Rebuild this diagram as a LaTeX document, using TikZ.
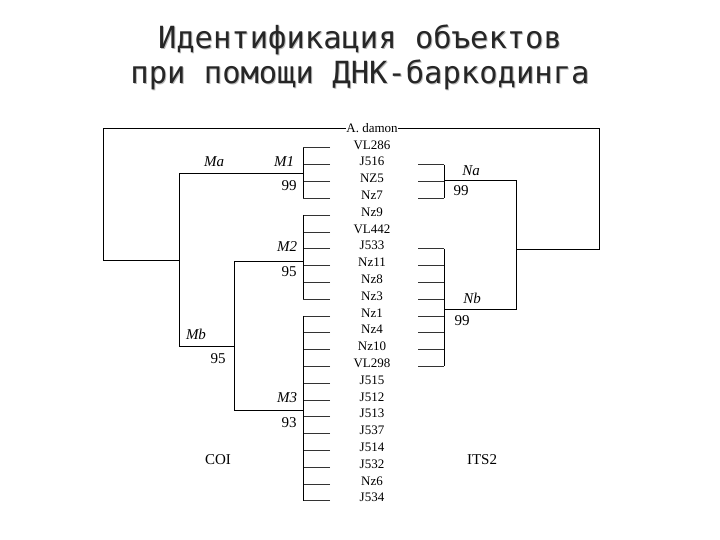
\documentclass[tikz,border=0pt]{standalone}
\usepackage{fontspec}
\setmainfont{Liberation Serif}
\newfontfamily\titlefont{DejaVu Sans Mono}
\begin{document}
\begin{tikzpicture}[x=1pt,y=-1pt,
  tree/.style={line width=0.9pt},
  tick/.style={line width=0.6pt,black!80},
  lab/.style={font=\fontsize{13}{13}\selectfont,inner sep=0pt},
  cl/.style={font=\fontsize{15}{15}\selectfont\itshape,inner sep=0pt},
  bs/.style={font=\fontsize{15}{15}\selectfont,inner sep=0pt},
  ttl/.style={font=\titlefont\fontsize{30.5}{30.5}\selectfont,inner sep=0pt}]
\useasboundingbox (0,0) rectangle (720,540);
% title
\node[ttl,text=gray!55] (t1s) at (361,41) {Идентификация объектов};
\node[ttl,text=black!85] (t1) at (360,40) {Идентификация объектов};
\node[ttl,text=gray!55] (t2s) at (361,76) {при помощи ДНК-баркодинга};
\node[ttl,text=black!85] (t2) at (360,75) {при помощи ДНК-баркодинга};
% labels
\foreach \n/\t [count=\i from 0] in {r0/A. damon,r1/VL286,r2/J516,r3/NZ5,r4/Nz7,r5/Nz9,r6/VL442,r7/J533,r8/Nz11,r9/Nz8,r10/Nz3,r11/Nz1,r12/Nz4,r13/Nz10,r14/VL298,r15/J515,r16/J512,r17/J513,r18/J537,r19/J514,r20/J532,r21/Nz6,r22/J534}
  \node[lab] (\n) at (372,{128+\i*16.8}) {\t};
\def\ty#1{131+#1*16.8}
% left ticks
\foreach \i in {1,...,22} \draw[tick] (330,{\ty{\i}}) -- (303,{\ty{\i}});
\draw[tree] (303,{\ty{1}}) -- (303,{\ty{4}});
\draw[tree] (303,{\ty{5}}) -- (303,{\ty{10}});
\draw[tree] (303,{\ty{11}}) -- (303,{\ty{22}});
\coordinate (m1) at (303,173);
\coordinate (m2) at (303,261);
\coordinate (m3) at (303,410);
\coordinate (mb) at (234,346);
\coordinate (ma) at (179,173);
\coordinate (root) at (103,260);
\draw[tree] (m1) -- (ma) -- (179,346) -- (mb);
\draw[tree] (m2) -- (234,261) -- (234,410) -- (m3);
\draw[tree] (root) -- (179,260);
\draw[tree] (root) |- (r0.west);
% right side
\foreach \i in {2,3,4,7,8,...,14} \draw[tick] (418,{\ty{\i}}) -- (444,{\ty{\i}});
\draw[tree] (444,{\ty{2}}) -- (444,{\ty{4}});
\draw[tree] (444,{\ty{7}}) -- (444,{\ty{14}});
\coordinate (na) at (444,180);
\coordinate (nb) at (444,309);
\draw[tree] (na) -- (516,180) -- (516,309) -- (nb);
\draw[tree] (516,249) -- (599,249) |- (r0.east);
% clade labels
\node[cl] (lMa) at (214,162) {Ma};
\node[cl] (lM1) at (284,162) {M1};
\node[bs] (b1) at (289,186) {99};
\node[cl] (lM2) at (287,247) {M2};
\node[bs] (b2) at (289,272) {95};
\node[cl] (lMb) at (196,334) {Mb};
\node[bs] (b3) at (218,359) {95};
\node[cl] (lM3) at (287,398) {M3};
\node[bs] (b4) at (289,423) {93};
\node[cl] (lNa) at (471,171) {Na};
\node[bs] (b5) at (461,191) {99};
\node[cl] (lNb) at (472,298) {Nb};
\node[bs] (b6) at (462,321) {99};
\node[bs] (coi) at (218,460) {COI};
\node[bs] (its) at (482,460) {ITS2};
\end{tikzpicture}
\end{document}
